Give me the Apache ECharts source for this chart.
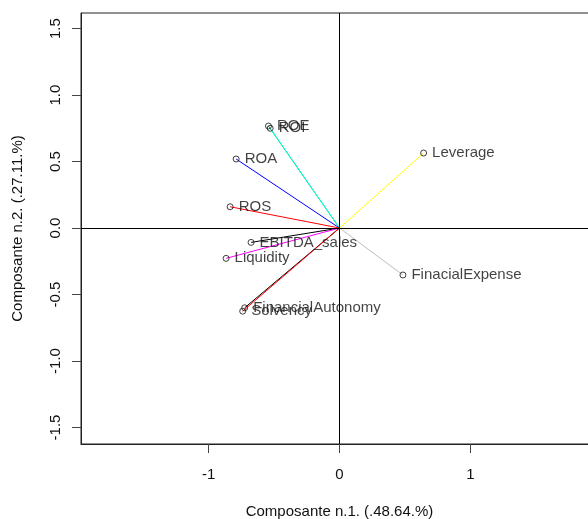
<!DOCTYPE html>
<html>
<head>
<meta charset="utf-8">
<script src="https://cdn.jsdelivr.net/npm/echarts@6/dist/echarts.min.js"></script>
<style>
  html, body { margin: 0; padding: 0; background: #fff; }
  #chart { width: 588px; height: 519px; }
</style>
</head>
<body>
<div id="chart"></div>
<script>
// Loadings of each variable on the first two principal components
const variables = ['ROE', 'ROI', 'ROA', 'ROS', 'EBITDA_sales', 'Liquidity',
                   'FinancialAutonomy', 'Solvency', 'Leverage', 'FinacialExpense'];
const comp1 = [-0.543, -0.530, -0.790, -0.836, -0.676, -0.867, -0.725, -0.740, 0.643, 0.485];
const comp2 = [0.767, 0.750, 0.519, 0.160, -0.108, -0.228, -0.600, -0.625, 0.564, -0.353];
const arrowColors = ['#00CD00', '#00FFFF', '#0000FF', '#FF0000', '#000000', '#FF00FF',
                     '#000000', '#FF0000', '#FFFF00', '#BEBEBE'];

// Axis ranges and tick positions
const xRange = [-1.976, 1.976];
const yRange = [-1.624, 1.617];
const xTicks = [-1, 0, 1];
const yTicks = [-1.5, -1.0, -0.5, 0.0, 0.5, 1.0, 1.5];
const xTitle = 'Composante n.1. (.48.64.%)';
const yTitle = 'Composante n.2. (.27.11.%)';

const FONT = 'Liberation Sans, Arial, sans-serif';
const TXT = '#111';

const series = [];

// Reference lines through the origin
series.push({
  type: 'line', data: [], silent: true,
  markLine: {
    silent: true, symbol: 'none', label: { show: false },
    lineStyle: { color: '#000', width: 1, type: 'solid' },
    emphasis: { disabled: true },
    data: [{ xAxis: 0 }, { yAxis: 0 }]
  }
});

// One segment from the origin to each variable
variables.forEach((name, i) => {
  series.push({
    type: 'line', name: name, silent: true, symbol: 'none', animation: false,
    lineStyle: { color: arrowColors[i], width: 1 },
    data: [[0, 0], [comp1[i], comp2[i]]],
    z: 3
  });
});

// Open circles with variable names
series.push({
  type: 'scatter', symbol: 'circle', symbolSize: 6, silent: true, animation: false,
  itemStyle: { color: 'rgba(0,0,0,0)', borderColor: '#111', borderWidth: 1 },
  label: {
    show: true, position: 'right', distance: 5,
    formatter: p => p.data.name,
    color: TXT, fontFamily: FONT, fontSize: 15
  },
  data: variables.map((name, i) => ({ name: name, value: [comp1[i], comp2[i]] })),
  z: 5
});

const chart = echarts.init(document.getElementById('chart'), null, { renderer: 'canvas' });
chart.setOption({
  animation: false,
  backgroundColor: '#fff',
  grid: {
    left: 81, top: 13, width: 517, height: 431,
    outerBoundsMode: 'none', containLabel: false,
    show: true, borderColor: '#222', borderWidth: 1, backgroundColor: 'transparent'
  },
  xAxis: {
    type: 'value', min: xRange[0], max: xRange[1],
    name: xTitle, nameLocation: 'middle', nameGap: 60,
    nameTextStyle: { color: TXT, fontFamily: FONT, fontSize: 15 },
    splitLine: { show: false },
    axisLine: { show: true, onZero: false, lineStyle: { color: '#222', width: 1 } },
    axisTick: { show: true, length: 9, customValues: xTicks, lineStyle: { color: '#444' } },
    axisLabel: {
      customValues: xTicks, margin: 23, color: TXT, fontFamily: FONT, fontSize: 15,
      formatter: v => String(Math.round(v))
    }
  },
  yAxis: {
    type: 'value', min: yRange[0], max: yRange[1],
    name: yTitle, nameLocation: 'middle', nameGap: 56, nameRotate: 90,
    nameTextStyle: { color: TXT, fontFamily: FONT, fontSize: 15 },
    splitLine: { show: false },
    axisLine: { show: true, onZero: false, lineStyle: { color: '#222', width: 1 } },
    axisTick: { show: true, length: 9, customValues: yTicks, lineStyle: { color: '#444' } },
    axisLabel: {
      customValues: yTicks, margin: 18, rotate: 90, color: TXT, fontFamily: FONT, fontSize: 15,
      formatter: v => v.toFixed(1)
    }
  },
  series: series
});
</script>
</body>
</html>
